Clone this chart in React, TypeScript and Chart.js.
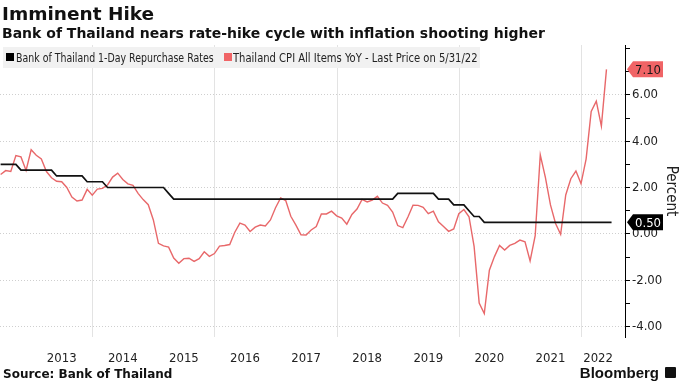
import React, { useEffect, useRef } from "react";
import { Chart, registerables } from "chart.js";
Chart.register(...registerables);

// Month-end observations, June 2012 onward
const startYear = 2012;
const startMonth = 6; // June
const cpiValues = [
  2.56, 2.73, 2.69, 3.38, 3.32, 2.74, 3.63,
  3.39, 3.23, 2.69, 2.42, 2.27, 2.25, 2.0, 1.59, 1.42, 1.46, 1.92, 1.67,
  1.93, 1.96, 2.11, 2.45, 2.62, 2.35, 2.16, 2.09, 1.75, 1.48, 1.26, 0.6,
  -0.41, -0.52, -0.57, -1.04, -1.27, -1.07, -1.05, -1.19, -1.07, -0.77, -0.97, -0.85,
  -0.53, -0.5, -0.46, 0.07, 0.46, 0.38, 0.1, 0.29, 0.38, 0.34, 0.6, 1.13,
  1.55, 1.44, 0.76, 0.38, -0.04, -0.05, 0.17, 0.32, 0.86, 0.86, 0.98, 0.78,
  0.68, 0.42, 0.84, 1.07, 1.49, 1.38, 1.46, 1.62, 1.33, 1.23, 0.94, 0.36,
  0.27, 0.73, 1.24, 1.23, 1.15, 0.87, 0.98, 0.52, 0.32, 0.11, 0.21, 0.87,
  1.05, 0.74, -0.54, -2.99, -3.44, -1.57, -0.98, -0.5, -0.7, -0.5, -0.41, -0.27,
  -0.34, -1.17, -0.08, 3.41, 2.44, 1.25, 0.45, -0.02, 1.68, 2.38, 2.71, 2.17,
  3.23, 5.28, 5.73, 4.65, 7.1,
];
const rateValues = [
  3.0, 3.0, 3.0, 3.0, 2.75, 2.75, 2.75,
  2.75, 2.75, 2.75, 2.75, 2.5, 2.5, 2.5, 2.5, 2.5, 2.5, 2.25, 2.25,
  2.25, 2.25, 2.0, 2.0, 2.0, 2.0, 2.0, 2.0, 2.0, 2.0, 2.0, 2.0,
  2.0, 2.0, 1.75, 1.5, 1.5, 1.5, 1.5, 1.5, 1.5, 1.5, 1.5, 1.5,
  1.5, 1.5, 1.5, 1.5, 1.5, 1.5, 1.5, 1.5, 1.5, 1.5, 1.5, 1.5,
  1.5, 1.5, 1.5, 1.5, 1.5, 1.5, 1.5, 1.5, 1.5, 1.5, 1.5, 1.5,
  1.5, 1.5, 1.5, 1.5, 1.5, 1.5, 1.5, 1.5, 1.5, 1.5, 1.5, 1.75,
  1.75, 1.75, 1.75, 1.75, 1.75, 1.75, 1.75, 1.5, 1.5, 1.5, 1.25, 1.25,
  1.25, 1.0, 0.75, 0.75, 0.5, 0.5, 0.5, 0.5, 0.5, 0.5, 0.5, 0.5,
  0.5, 0.5, 0.5, 0.5, 0.5, 0.5, 0.5, 0.5, 0.5, 0.5, 0.5, 0.5,
  0.5, 0.5, 0.5, 0.5, 0.5, 0.5,
];
const yearLabels = ["2013", "2014", "2015", "2016", "2017", "2018", "2019", "2020", "2021", "2022"];
const yearLabelPositions = [2013.5, 2014.5, 2015.5, 2016.5, 2017.5, 2018.5, 2019.5, 2020.5, 2021.5, 2022.28];
const gridYears = [2014, 2016, 2018, 2020, 2022];
const yTicks = [-4, -3, -2, -1, 0, 1, 2, 3, 4, 5, 6, 7, 8];
const yLabelled = [-4, -2, 0, 2, 4, 6];
const rateName = "Bank of Thailand 1-Day Repurchase Rates";
const cpiName = "Thailand CPI All Items YoY - Last Price on 5/31/22";

const RED = "#e8686a";
const NARROW = '"Liberation Sans Narrow", "DejaVu Sans Condensed", "Roboto Condensed", "Liberation Sans", sans-serif';
const BOLD = '"DejaVu Sans", "Liberation Sans", sans-serif';

const toPoints = (vals: number[]) =>
  vals.map((v, i) => ({ x: startYear + (startMonth + i) / 12, y: v }));

const yearGrid = {
  id: "yearGrid",
  beforeDatasetsDraw(chart: any) {
    const { ctx, chartArea, scales } = chart;
    ctx.save();
    ctx.strokeStyle = "#e3e3e3";
    ctx.lineWidth = 1;
    gridYears.forEach((yr) => {
      const px = Math.round(scales.x.getPixelForValue(yr)) + 0.5;
      ctx.beginPath();
      ctx.moveTo(px, chartArea.top);
      ctx.lineTo(px, chartArea.bottom);
      ctx.stroke();
    });
    ctx.restore();
  },
};

const valueLabels = {
  id: "valueLabels",
  afterDraw(chart: any) {
    const { ctx, scales } = chart;
    const y = scales.y;
    const xLeft = chart.chartArea.right + 2;
    const draw = (val: number, fill: string, textColor: string) => {
      const py = y.getPixelForValue(val);
      const h = 16, w = 30, arrow = 6;
      ctx.save();
      ctx.beginPath();
      ctx.moveTo(xLeft, py);
      ctx.lineTo(xLeft + arrow, py - h / 2);
      ctx.lineTo(xLeft + arrow + w, py - h / 2);
      ctx.lineTo(xLeft + arrow + w, py + h / 2);
      ctx.lineTo(xLeft + arrow, py + h / 2);
      ctx.closePath();
      ctx.fillStyle = fill;
      ctx.fill();
      ctx.fillStyle = textColor;
      ctx.font = `13px ${NARROW}`;
      ctx.textAlign = "left";
      ctx.textBaseline = "middle";
      ctx.fillText(val.toFixed(2), xLeft + arrow + 2, py + 1);
      ctx.restore();
    };
    draw(cpiValues[cpiValues.length - 1], "#f06466", "#1a1a1a");
    draw(rateValues[rateValues.length - 1], "#000000", "#ffffff");
  },
};

export default function App() {
  const ref = useRef<HTMLCanvasElement>(null);
  useEffect(() => {
    document.body.style.margin = "0";
    const chart = new Chart(ref.current!, {
      type: "line",
      data: {
        datasets: [
          {
            label: rateName,
            data: toPoints(rateValues),
            borderColor: "#111111",
            borderWidth: 1.7,
            pointRadius: 0,
            tension: 0,
          },
          {
            label: cpiName,
            data: toPoints(cpiValues),
            borderColor: RED,
            borderWidth: 1.4,
            pointRadius: 0,
            tension: 0,
          },
        ],
      },
      options: {
        animation: false,
        responsive: false,
        layout: { padding: { top: 45, left: 0, right: 0, bottom: 0 } },
        plugins: { legend: { display: false }, tooltip: { enabled: false } },
        scales: {
          x: {
            type: "linear",
            min: 2012.49,
            max: 2022.72,
            afterBuildTicks: (s: any) => {
              s.ticks = yearLabelPositions.map((v) => ({ value: v }));
            },
            afterFit: (s: any) => {
              s.height = 46;
            },
            ticks: {
              autoSkip: false,
              maxRotation: 0,
              padding: 14,
              color: "#222",
              font: { size: 13, family: NARROW },
              callback: (v: any) => {
                const i = yearLabelPositions.indexOf(v);
                return i >= 0 ? yearLabels[i] : "";
              },
            },
            grid: { display: false, drawTicks: false },
            border: { display: false },
          },
          y: {
            position: "right",
            min: -4.45,
            max: 8.15,
            afterBuildTicks: (s: any) => {
              s.ticks = yTicks.map((v) => ({ value: v }));
            },
            afterFit: (s: any) => {
              s.width = 55;
            },
            ticks: {
              padding: 2,
              color: "#222",
              font: { size: 13, family: NARROW },
              callback: (v: any) => (yLabelled.includes(v) ? Number(v).toFixed(2) : ""),
            },
            grid: {
              drawTicks: true,
              tickLength: 5,
              tickColor: "#000",
              color: (c: any) =>
                c.tick && yLabelled.includes(c.tick.value) ? "#cfcfcf" : "rgba(0,0,0,0)",
            },
            border: { display: true, color: "#000", width: 1, dash: [1, 2] },
            title: {
              display: true,
              text: "Percent",
              color: "#222",
              font: { size: 15, family: NARROW },
              padding: { top: 0, bottom: 3 },
            },
          },
        },
      },
      plugins: [yearGrid, valueLabels],
    });
    return () => chart.destroy();
  }, []);

  const sq = (color: string, left: number) => (
    <span style={{ position: "absolute", left, top: 6, width: 8, height: 8, background: color }} />
  );
  const txt = (s: string, left: number, scale: number) => (
    <span style={{ position: "absolute", left, top: 0, transform: `scaleX(${scale})`, transformOrigin: "0 0" }}>{s}</span>
  );

  return (
    <div style={{ position: "relative", width: 680, height: 383, background: "#fff", overflow: "hidden" }}>
      <canvas ref={ref} width={680} height={383} style={{ position: "absolute", left: 0, top: 0 }} />
      <div style={{ position: "absolute", left: 2, top: 3, font: `bold 18.5px ${BOLD}`, color: "#111", whiteSpace: "nowrap" }}>
        Imminent Hike
      </div>
      <div style={{ position: "absolute", left: 2, top: 25, font: `bold 14px ${BOLD}`, color: "#111", whiteSpace: "nowrap" }}>
        Bank of Thailand nears rate-hike cycle with inflation shooting higher
      </div>
      <div style={{ position: "absolute", left: 3, top: 47, width: 477, height: 21, background: "#f1f1f1", font: `13px ${NARROW}`, color: "#222", whiteSpace: "nowrap", lineHeight: "21px" }}>
        {sq("#000", 3)}
        {txt(rateName, 13, 0.805)}
        {sq("#f06466", 221)}
        {txt(cpiName, 230, 0.855)}
      </div>
      <div style={{ position: "absolute", left: 3, top: 367, font: `bold 12px ${BOLD}`, color: "#111", whiteSpace: "nowrap" }}>
        Source: Bank of Thailand
      </div>
      <div style={{ position: "absolute", right: 4, top: 364, font: `bold 15px "Liberation Sans", sans-serif`, color: "#111", whiteSpace: "nowrap", display: "flex", alignItems: "center" }}>
        Bloomberg
        <span style={{ display: "inline-block", width: 11, height: 11, background: "#111", marginLeft: 6, borderRadius: 1 }} />
      </div>
    </div>
  );
}
